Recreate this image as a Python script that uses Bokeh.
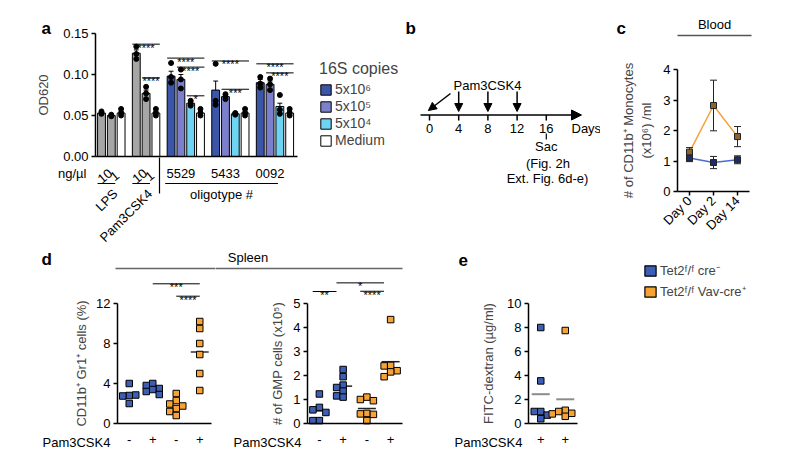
import numpy as np
from bokeh.plotting import figure
from bokeh.models import (Range1d, FixedTicker, Label, Arrow, NormalHead,
                          Legend, LegendItem, NumeralTickFormatter)
from bokeh.layouts import row, column
from bokeh.embed import file_html
from bokeh.resources import INLINE

FONT = "Liberation Sans"
GRAY = "#A6A6A6"; DARK = "#3B56A9"; MED = "#7C80CC"; LIGHT = "#6FD4F3"; WHITE = "#FFFFFF"
BLUE = "#3D5EB3"; ORANGE = "#F6A234"; LBLUE = "#4A6CD4"; LORANGE = "#F2A33A"
MBLUE = "#1E2C6E"; MORANGE = "#8C6430"

# ---------------- data: panel a ----------------
a_group_names = ["LPS", "Pam3CSK4", "5529", "5433", "0092"]
a_dose_labels = ["10", "1"]
a_conc_labels = ["5x10⁶", "5x10⁵", "5x10⁴", "Medium"]
a_yticks = [0.0, 0.05, 0.10, 0.15]
lps_mean = [0.053, 0.050, 0.053]
lps_sem = [0.001, 0.001, 0.002]
lps_pts = [[0.055, 0.053, 0.052], [0.051, 0.050, 0.049], [0.058, 0.053, 0.050]]
pam_mean = [0.126, 0.077, 0.053]
pam_sem = [0.004, 0.004, 0.002]
pam_pts = [[0.134, 0.125, 0.119], [0.085, 0.077, 0.070], [0.058, 0.053, 0.050]]
o5529_mean = [0.098, 0.094, 0.065, 0.053]
o5529_sem = [0.006, 0.006, 0.002, 0.002]
o5529_pts = [[0.114, 0.097, 0.090], [0.106, 0.094, 0.083], [0.068, 0.064, 0.062], [0.058, 0.053, 0.050]]
o5433_mean = [0.081, 0.073, 0.052, 0.053]
o5433_sem = [0.011, 0.002, 0.001, 0.002]
o5433_pts = [[0.113, 0.068, 0.063], [0.076, 0.073, 0.070], [0.053, 0.052, 0.051], [0.058, 0.053, 0.050]]
o0092_mean = [0.090, 0.088, 0.061, 0.053]
o0092_sem = [0.004, 0.004, 0.004, 0.002]
o0092_pts = [[0.097, 0.089, 0.084], [0.095, 0.088, 0.081], [0.075, 0.057, 0.052], [0.058, 0.053, 0.050]]
a_sig_group = [1, 1, 2, 2, 2, 3, 3, 4, 4]
a_sig_from = [0, 1, 0, 1, 2, 0, 1, 0, 1]
a_sig_to = [2, 2, 3, 3, 3, 3, 3, 3, 3]
a_sig_y = [0.137, 0.096, 0.120, 0.109, 0.074, 0.1165, 0.082, 0.113, 0.102]
a_sig_text = ["****", "****", "****", "****", "*", "****", "***", "****", "****"]

# ---------------- data: panel b ----------------
b_days = [0, 4, 8, 12, 16]
b_inject_days = [4, 8, 12]
b_sac_day = 16

# ---------------- data: panel c ----------------
c_days = ["Day 0", "Day 2", "Day 14"]
c_ctrl_mean = [1.10, 0.95, 1.04]
c_ctrl_sem = [0.12, 0.20, 0.13]
c_vav_mean = [1.29, 2.82, 1.80]
c_vav_sem = [0.15, 0.83, 0.33]
c_yticks = [0, 1, 2, 3, 4]

# ---------------- data: panels d, e ----------------
d_pam = ["-", "+", "-", "+"]
d_geno = ["ctrl", "ctrl", "vav", "vav"]
d1_vals = [[4.0, 2.8, 2.75, 2.85, 2.0],
           [4.0, 3.8, 3.5, 3.4, 3.2, 2.9],
           [3.0, 2.3, 1.95, 1.75, 1.5, 1.2, 0.8],
           [10.2, 9.5, 8.0, 6.9, 5.0, 3.3]]
d1_yticks = [0, 4, 8, 12]
d1_sig_from = [1, 2]; d1_sig_to = [3, 3]; d1_sig_y = [13.97, 12.73]; d1_sig_text = ["***", "****"]
d2_vals = [[1.23, 0.67, 0.57, 0.46, 0.12, 0.12],
           [2.25, 1.95, 1.6, 1.5, 1.35, 1.15, 1.1],
           [1.1, 1.0, 0.95, 0.42, 0.4, 0.38, 0.12],
           [4.33, 2.42, 2.40, 2.2, 2.15, 1.95]]
d2_yticks = [0, 1, 2, 3, 4, 5]
d2_sig_from = [0, 1, 2]; d2_sig_to = [1, 3, 3]; d2_sig_y = [5.5, 5.86, 5.51]; d2_sig_text = ["**", "*", "****"]
e_pam = ["+", "+"]
e_geno = ["ctrl", "vav"]
e_vals = [[8.0, 3.55, 1.0, 1.0, 0.7, 0.4],
          [7.75, 1.1, 1.0, 0.85, 0.8, 0.6]]
e_yticks = [0, 2, 4, 6, 8, 10]
geno_labels = ["Tet2ᶠ/ᶠ cre⁻", "Tet2ᶠ/ᶠ Vav-cre⁺"]
geno_color = {"ctrl": BLUE, "vav": ORANGE}

TOP_H = 246
BOT_H = 458 - TOP_H


# ---------------- helpers ----------------
def panel(fx0, fy0, w, h, x0px, xppu, y0px, yppu, axes=True):
    xr = ((fx0 - x0px) / xppu, (fx0 + w - x0px) / xppu)
    yr = ((y0px - (fy0 + h)) / yppu, (y0px - fy0) / yppu)
    kw = dict(width=w, height=h, x_range=Range1d(*xr), y_range=Range1d(*yr),
              min_border=0, min_border_left=0, min_border_right=0,
              min_border_top=0, min_border_bottom=0, title=None,
              output_backend="svg", toolbar_location=None)
    if not axes:
        kw.update(x_axis_type=None, y_axis_type=None)
    p = figure(**kw)
    p.outline_line_color = None
    p.grid.visible = False
    p.background_fill_color = "white"
    p.border_fill_color = "white"
    if axes:
        for ax in p.axis:
            ax.axis_line_width = 1.5
            ax.axis_line_color = "black"
            ax.major_tick_line_width = 1.5
            ax.major_tick_line_color = "black"
            ax.major_tick_out = 4
            ax.major_tick_in = 0
            ax.minor_tick_out = 0
            ax.minor_tick_in = 0
            ax.major_label_text_font = FONT
            ax.major_label_text_font_size = "13px"
            ax.major_label_text_color = "black"
            ax.axis_label_text_font = FONT
            ax.axis_label_text_font_size = "13px"
            ax.axis_label_text_font_style = "normal"
            ax.major_label_standoff = 3
        p.xaxis.fixed_location = 0
        p.yaxis.fixed_location = 0
    X = lambda px: (px - x0px) / xppu
    Y = lambda py: (y0px - py) / yppu
    return p, X, Y


def lab(p, x, y, text, size="13px", align="left", baseline="middle", angle=0.0, bold=False, color="black"):
    p.add_layout(Label(x=x, y=y, text=text, text_font=FONT, text_font_size=size,
                       text_align=align, text_baseline=baseline, angle=angle,
                       text_font_style="bold" if bold else "normal", text_color=color))


def seg(p, x0, y0, x1, y1, color="black", width=1.5):
    p.add_layout(Arrow(end=None, x_start=x0, y_start=y0, x_end=x1, y_end=y1,
                       line_color=color, line_width=width))


def swarm(vals, ppu_y, step=6.5):
    placed, offs = [], []
    for v in vals:
        y = v * ppu_y
        dx = 0.0
        for k in [0, -1, 1, -2, 2, -3, 3]:
            dx = k * step
            if all((dx - a) ** 2 + (y - b) ** 2 >= (0.85 * step) ** 2 for a, b in placed):
                break
        placed.append((dx, y))
        offs.append(dx)
    return offs


# ================= panel a =================
A_XPPU = 9.8
A_YPPU = 123 / 0.15
fa, Xa, Ya = panel(0, 0, 400, TOP_H, 101, A_XPPU, 156, A_YPPU)
A_GAP = 0.55
a_means = [lps_mean, pam_mean, o5529_mean, o5433_mean, o0092_mean]
a_sems = [lps_sem, pam_sem, o5529_sem, o5433_sem, o0092_sem]
a_pts = [lps_pts, pam_pts, o5529_pts, o5433_pts, o0092_pts]
starts, s = [], 0.0
for m in a_means:
    starts.append(s)
    s += len(m) + A_GAP

ctrl_colors = [GRAY, GRAY, WHITE]
conc_colors = [DARK, MED, LIGHT, WHITE]
cx_, ct_, cc_ = [], [], []
for g in range(2):
    for i, m in enumerate(a_means[g]):
        cx_.append(starts[g] + i); ct_.append(m); cc_.append(ctrl_colors[i])
fa.vbar(x=cx_, top=ct_, width=0.8, fill_color=cc_, line_color="black", line_width=1)
conc_r = []
for i in range(4):
    xs = [starts[g] + i for g in range(2, 5)]
    tops = [a_means[g][i] for g in range(2, 5)]
    conc_r.append(fa.vbar(x=xs, top=tops, width=0.8, fill_color=conc_colors[i],
                          line_color="black", line_width=1))
ex, elo, ehi, px_, py_ = [], [], [], [], []
for g in range(5):
    for i, m in enumerate(a_means[g]):
        x = starts[g] + i
        ex.append(x); elo.append(m); ehi.append(m + a_sems[g][i])
        for v in a_pts[g][i]:
            px_.append(x); py_.append(v)
ex = np.array(ex)
fa.segment(ex, elo, ex, ehi, line_color="black", line_width=1)
fa.segment(ex - 0.25, ehi, ex + 0.25, ehi, line_color="black", line_width=1)
fa.scatter(px_, py_, size=5, fill_color="black", line_color="black")
for g, i, j, y, t in zip(a_sig_group, a_sig_from, a_sig_to, a_sig_y, a_sig_text):
    x0 = starts[g] + i - 0.4; x1 = starts[g] + j + 0.4
    fa.segment([x0], [y], [x1], [y], line_color="black", line_width=1)
    lab(fa, (x0 + x1) / 2, y - 3.5 / A_YPPU, t, size="11px", align="center", baseline="alphabetic")

fa.yaxis.ticker = FixedTicker(ticks=a_yticks)
fa.yaxis.formatter = NumeralTickFormatter(format="0.00")
fa.yaxis.bounds = (0, 0.15)
fa.yaxis.fixed_location = Xa(95)
fa.yaxis.axis_label = "OD620"
fa.yaxis.axis_label_standoff = 9
fa.xaxis.ticker = FixedTicker(ticks=[])
fa.xaxis.bounds = (Xa(95), Xa(297))

lab(fa, Xa(41), Ya(28), "a", size="17px", bold=True)
lab(fa, Xa(86), Ya(173), "ng/µl", align="right")
for g in range(2):
    for i, d in enumerate(a_dose_labels):
        lab(fa, starts[g] + i + 0.35, Ya(175.5), d, align="center", angle=0.7)
    seg(fa, starts[g] - 0.4, Ya(183), starts[g] + 1.4, Ya(183), width=1.2)
    lab(fa, starts[g] + 1.4, Ya(191), a_group_names[g], align="right", angle=np.pi / 4)
seg(fa, Xa(159), Ya(157), Xa(159), Ya(193), width=1.2)
for g in range(2, 5):
    lab(fa, starts[g] + 1.0, Ya(173), a_group_names[g], align="center")
ox0 = starts[2] - 0.6; ox1 = starts[4] + 1.8
seg(fa, ox0, Ya(183), ox1, Ya(183), width=1.2)
lab(fa, (ox0 + ox1) / 2, Ya(194), "oligotype #", align="center")

leg_a = Legend(items=[LegendItem(label=l, renderers=[r]) for l, r in zip(a_conc_labels, conc_r)],
               location=(319, TOP_H - 148), title="16S copies")
leg_a.title_text_font = FONT; leg_a.title_text_font_size = "16px"; leg_a.title_text_font_style = "normal"
leg_a.title_standoff = 3
leg_a.label_text_font = FONT; leg_a.label_text_font_size = "14px"
leg_a.glyph_width = 13; leg_a.glyph_height = 13; leg_a.label_height = 13
leg_a.spacing = 1; leg_a.padding = 0; leg_a.margin = 0; leg_a.label_standoff = 3
leg_a.border_line_color = None; leg_a.background_fill_alpha = 0
fa.add_layout(leg_a)

# ================= panel b =================
fb, Xb, Yb = panel(400, 0, 200, TOP_H, 429, 7.3, 240, 1.0, axes=False)
lab(fb, Xb(405), Yb(28), "b", size="17px", bold=True)
fb.add_layout(Arrow(end=NormalHead(size=10, fill_color="black", line_color="black", line_width=1),
                    x_start=Xb(420), y_start=Yb(114.5), x_end=Xb(581), y_end=Yb(114.5),
                    line_color="black", line_width=1.5))
fb.segment(b_days, [Yb(114.5)] * len(b_days), b_days, [Yb(120)] * len(b_days),
           line_color="black", line_width=1.5)
for d in b_days:
    lab(fb, d, Yb(128), str(d), align="center")
lab(fb, Xb(571), Yb(128), "Days")
for d in b_inject_days:
    fb.add_layout(Arrow(end=NormalHead(size=8, fill_color="black", line_color="black", line_width=1),
                        x_start=d, y_start=Yb(91), x_end=d, y_end=Yb(111),
                        line_color="black", line_width=1.5))
fb.add_layout(Arrow(end=NormalHead(size=8, fill_color="black", line_color="black", line_width=1),
                    x_start=Xb(450), y_start=Yb(93), x_end=b_days[0] - 0.15, y_end=Yb(110),
                    line_color="black", line_width=1.5))
lab(fb, Xb(453), Yb(85), "Pam3CSK4")
fb.segment([b_sac_day], [Yb(133)], [b_sac_day], [Yb(139)], line_color="black", line_width=1.2)
lab(fb, b_sac_day, Yb(146), "Sac", align="center")
lab(fb, Xb(547.5), Yb(163), "(Fig. 2h", align="center")
lab(fb, Xb(547), Yb(178), "Ext. Fig. 6d-e)", align="center")

# ================= panel c =================
fc, Xc, Yc = panel(600, 0, 200, TOP_H, 677, 24.0, 191, 30.5)
cxs = np.array([i + 0.5 for i in range(len(c_days))])
fc.line(cxs, c_vav_mean, line_color=LORANGE, line_width=1.5)
fc.line(cxs, c_ctrl_mean, line_color=LBLUE, line_width=1.5)
cw = 3.5 / 24
for mean, sem in [(c_vav_mean, c_vav_sem), (c_ctrl_mean, c_ctrl_sem)]:
    lo = [m - e for m, e in zip(mean, sem)]
    hi = [m + e for m, e in zip(mean, sem)]
    fc.segment(cxs, lo, cxs, hi, line_color="#222222", line_width=1)
    fc.segment(cxs - cw, hi, cxs + cw, hi, line_color="#222222", line_width=1)
    fc.segment(cxs - cw, lo, cxs + cw, lo, line_color="#222222", line_width=1)
fc.scatter(cxs, c_vav_mean, marker="square", size=6, fill_color=MORANGE, line_color="#222222", line_width=1)
fc.scatter(cxs, c_ctrl_mean, marker="square", size=6, fill_color=MBLUE, line_color="#222222", line_width=1)
fc.xaxis.ticker = FixedTicker(ticks=list(cxs))
fc.xaxis.major_label_overrides = {float(x): d for x, d in zip(cxs, c_days)}
fc.xaxis.major_label_orientation = np.pi / 4
fc.xaxis.bounds = (0, 3)
fc.yaxis.ticker = FixedTicker(ticks=c_yticks)
fc.yaxis.bounds = (0, 4)
fc.yaxis.axis_label = "# of CD11b⁺ Monocytes\n(x10⁶) /ml"
fc.yaxis.axis_label_standoff = 6
lab(fc, Xc(616), Yc(28), "c", size="17px", bold=True)
lab(fc, Xc(714), Yc(24), "Blood", align="center")
seg(fc, Xc(677), Yc(35), Xc(751), Yc(35), color="#555555", width=1.5)


# ================= panels d, e =================
def dot_panel(p, vals, genos, ppu_x, ppu_y, line_color, line_width):
    for g, v in enumerate(vals):
        m = float(np.mean(v))
        hw = 9.0 / ppu_x
        p.segment([g + 0.5 - hw], [m], [g + 0.5 + hw], [m], line_color=line_color, line_width=line_width)
    for g, v in enumerate(vals):
        offs = swarm(v, ppu_y)
        xs = [g + 0.5 + o / ppu_x for o in offs]
        p.scatter(xs, v, marker="square", size=6.5, fill_color=geno_color[genos[g]],
                  line_color="black", line_width=1)


def sig(p, frm, to, ys, texts, yppu, shift=0.0):
    for i, j, y, t in zip(frm, to, ys, texts):
        x0 = i + 0.5 + shift; x1 = j + 0.5 + shift
        p.segment([x0], [y], [x1], [y], line_color="black", line_width=1)
        lab(p, (x0 + x1) / 2, y - 3.5 / yppu, t, size="11px", align="center", baseline="alphabetic")


def xcat(p, labels, standoff=11):
    p.xaxis.ticker = FixedTicker(ticks=[i + 0.5 for i in range(len(labels))])
    p.xaxis.major_label_overrides = {i + 0.5: l for i, l in enumerate(labels)}
    p.xaxis.major_tick_out = 0
    p.xaxis.major_tick_line_color = None
    p.xaxis.major_label_standoff = standoff
    p.xaxis.bounds = (0, len(labels))


fd1, Xd1, Yd1 = panel(0, TOP_H, 215, BOT_H, 117, 23.5, 423, 10.0)
dot_panel(fd1, d1_vals, d_geno, 23.5, 10.0, "#333333", 1.5)
sig(fd1, d1_sig_from, d1_sig_to, d1_sig_y, d1_sig_text, 10.0)
xcat(fd1, d_pam)
fd1.yaxis.ticker = FixedTicker(ticks=d1_yticks)
fd1.yaxis.bounds = (0, 12)
fd1.yaxis.axis_label = "CD11b⁺ Gr1⁺ cells (%)"
fd1.yaxis.axis_label_standoff = 4
lab(fd1, Xd1(41), Yd1(259), "d", size="17px", bold=True)
lab(fd1, Xd1(42), Yd1(442), "Pam3CSK4")
seg(fd1, Xd1(115), Yd1(268), Xd1(216), Yd1(268), color="#666666", width=1.5)

fd2, Xd2, Yd2 = panel(215, TOP_H, 195, BOT_H, 307, 23.75, 423, 24.0)
dot_panel(fd2, d2_vals, d_geno, 23.75, 24.0, "#222222", 1.5)
sig(fd2, d2_sig_from, d2_sig_to, d2_sig_y, d2_sig_text, 24.0, shift=-0.28)
xcat(fd2, d_pam)
fd2.yaxis.ticker = FixedTicker(ticks=d2_yticks)
fd2.yaxis.bounds = (0, 5)
fd2.yaxis.axis_label = "# of GMP cells (x10⁵)"
fd2.yaxis.axis_label_standoff = 5
lab(fd2, Xd2(233), Yd2(442), "Pam3CSK4")
lab(fd2, Xd2(247.5), Yd2(257), "Spleen", align="center")
seg(fd2, Xd2(214), Yd2(268), Xd2(402), Yd2(268), color="#666666", width=1.5)

fe, Xe, Ye = panel(410, TOP_H, 390, BOT_H, 528, 24.5, 423, 12.0)
dot_panel(fe, e_vals, e_geno, 24.5, 12.0, "#8C8C8C", 2)
xcat(fe, e_pam)
fe.yaxis.ticker = FixedTicker(ticks=e_yticks)
fe.yaxis.bounds = (0, 10)
fe.yaxis.axis_label = "FITC-dextran (µg/ml)"
fe.yaxis.axis_label_standoff = 8
lab(fe, Xe(458), Ye(259), "e", size="17px", bold=True)
lab(fe, Xe(454), Ye(442), "Pam3CSK4")
r_ctrl = fe.vbar(x=[np.nan], top=[np.nan], width=0.5, fill_color=BLUE, line_color="black", line_width=1.2)
r_vav = fe.vbar(x=[np.nan], top=[np.nan], width=0.5, fill_color=ORANGE, line_color="black", line_width=1.2)
leg_e = Legend(items=[LegendItem(label=geno_labels[0], renderers=[r_ctrl]),
                      LegendItem(label=geno_labels[1], renderers=[r_vav])],
               location=(643 - 410, 458 - 300))
leg_e.label_text_font = FONT; leg_e.label_text_font_size = "13px"
leg_e.glyph_width = 14; leg_e.glyph_height = 13; leg_e.label_height = 13
leg_e.spacing = 3; leg_e.padding = 0; leg_e.margin = 0; leg_e.label_standoff = 3
leg_e.border_line_color = None; leg_e.background_fill_alpha = 0
fe.add_layout(leg_e)

layout = column(row(fa, fb, fc), row(fd1, fd2, fe))
open("out.html", "w").write(file_html(layout, INLINE))
